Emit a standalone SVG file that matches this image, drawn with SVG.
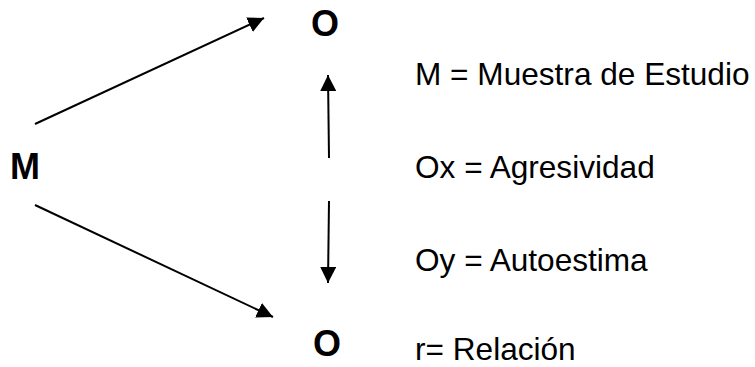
<svg xmlns="http://www.w3.org/2000/svg" width="755" height="367" viewBox="0 0 755 367">
<style>
.b{font-family:"Liberation Sans",Arial,sans-serif;font-weight:bold;font-size:36px;fill:#000}
.l{font-family:"Liberation Sans",Arial,sans-serif;font-size:31.6px;fill:#000}
.c{stroke:#000;stroke-width:2;fill:none;marker-end:url(#ah)}
</style>
<defs>
<marker id="ah" viewBox="0 0 16 16" refX="16" refY="8" markerWidth="16" markerHeight="16" markerUnits="userSpaceOnUse" orient="auto">
<path d="M0,0 L16,8 L0,16 z" fill="#000"/>
</marker>
</defs>
<rect width="755" height="367" fill="#fff"/>
<g id="connectors">
<line class="c" x1="35" y1="124" x2="264" y2="18"/>
<line class="c" x1="35" y1="205" x2="273" y2="317"/>
<line class="c" x1="329" y1="158" x2="328" y2="75"/>
<line class="c" x1="329" y1="201" x2="328" y2="283"/>
</g>
<g id="node-M"><text class="b" x="10" y="179">M</text></g>
<g id="node-O-top"><text class="b" x="311" y="36">O</text></g>
<g id="node-O-bottom"><text class="b" x="313" y="356">O</text></g>
<g id="legend">
<text class="l" x="415" y="85">M = Muestra de Estudio</text>
<text class="l" x="415" y="178">Ox = Agresividad</text>
<text class="l" x="415" y="271">Oy = Autoestima</text>
<text class="l" x="415" y="360">r= Relación</text>
</g>
</svg>
